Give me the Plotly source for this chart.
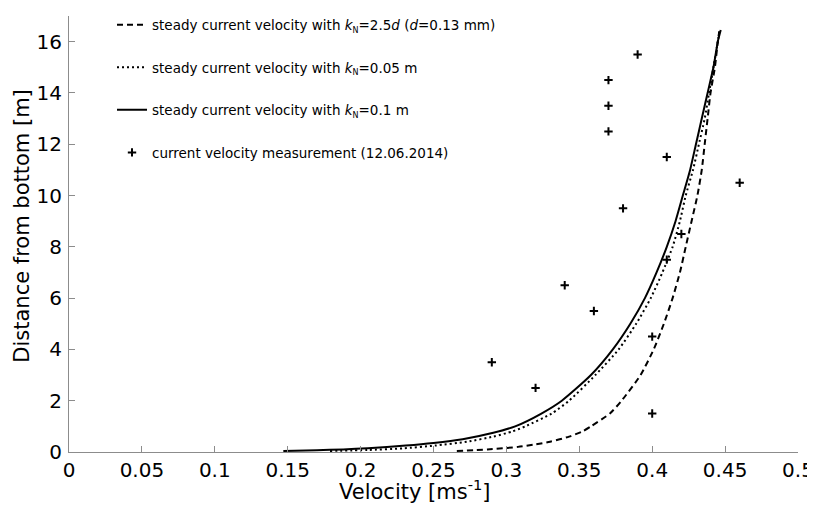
import plotly.graph_objects as go

# Measurements (velocity m/s, height m)
meas_v = [0.40, 0.32, 0.29, 0.40, 0.36, 0.34, 0.41, 0.42, 0.38, 0.46, 0.41, 0.37, 0.37, 0.37, 0.39]
meas_z = [1.5, 2.5, 3.5, 4.5, 5.5, 6.5, 7.5, 8.5, 9.5, 10.5, 11.5, 12.5, 13.5, 14.5, 15.5]

# Steady current profiles (height m, velocity m/s)
dash_z = [0.04, 0.1, 0.2, 0.3, 0.4, 0.6, 0.8, 1.0, 1.5, 2.0, 3.0, 4.0, 5.0, 6.0, 7.0, 8.0, 9.0, 10.0, 11.0, 12.0, 13.0, 14.0, 15.0, 16.0, 16.4]
dash_v = [0.266, 0.287, 0.308, 0.320, 0.330, 0.343, 0.352, 0.358, 0.371, 0.379, 0.392, 0.401, 0.408, 0.414, 0.419, 0.423, 0.427, 0.431, 0.434, 0.436, 0.438, 0.440, 0.443, 0.445, 0.446]

dot_z = [0.04, 0.08, 0.14, 0.25, 0.4, 0.6, 0.8, 1.0, 1.5, 2.0, 3.0, 4.0, 5.0, 6.0, 7.0, 8.0, 9.0, 10.0, 11.0, 12.0, 13.0, 14.0, 15.0, 16.0, 16.4]
dot_v = [0.179, 0.205, 0.229, 0.251, 0.273, 0.291, 0.304, 0.313, 0.331, 0.343, 0.361, 0.377, 0.389, 0.399, 0.407, 0.414, 0.419, 0.423, 0.428, 0.432, 0.436, 0.439, 0.442, 0.445, 0.446]

solid_z = [0.04, 0.07, 0.1, 0.15, 0.25, 0.35, 0.5, 0.75, 1.0, 1.5, 2.0, 3.0, 4.0, 5.0, 6.0, 7.0, 8.0, 9.0, 10.0, 11.0, 12.0, 13.0, 14.0, 15.0, 16.0, 16.45]
solid_v = [0.147, 0.170, 0.188, 0.205, 0.231, 0.250, 0.270, 0.291, 0.306, 0.324, 0.338, 0.358, 0.373, 0.385, 0.395, 0.403, 0.410, 0.416, 0.421, 0.426, 0.430, 0.434, 0.438, 0.442, 0.445, 0.447]

x_ticks = [0, 0.05, 0.1, 0.15, 0.2, 0.25, 0.3, 0.35, 0.4, 0.45, 0.5]
x_tick_text = ["0", "0.05", "0.1", "0.15", "0.2", "0.25", "0.3", "0.35", "0.4", "0.45", "0.5"]
y_ticks = [0, 2, 4, 6, 8, 10, 12, 14, 16]

kN = "<i>k</i><sub><span style='font-size:8px'>N</span></sub>"
names = [
    "steady current velocity with " + kN + "=2.5<i>d</i> (<i>d</i>=0.13 mm)",
    "steady current velocity with " + kN + "=0.05 m",
    "steady current velocity with " + kN + "=0.1 m",
    "current velocity measurement (12.06.2014)",
]

fig = go.Figure()
fig.add_trace(go.Scatter(x=dash_v, y=dash_z, mode="lines", name=names[0], legendgroup="a",
                         line=dict(color="black", width=2, dash="6px,4px", shape="spline", smoothing=0.6)))
fig.add_trace(go.Scatter(x=dot_v, y=dot_z, mode="lines", name=names[1], legendgroup="b",
                         line=dict(color="black", width=2, dash="2px,3px", shape="spline", smoothing=0.6)))
fig.add_trace(go.Scatter(x=solid_v, y=solid_z, mode="lines", name=names[2], legendgroup="c",
                         line=dict(color="black", width=2, shape="spline", smoothing=0.6)))
fig.add_trace(go.Scatter(x=meas_v, y=meas_z, mode="markers", name=names[3], legendgroup="d",
                         marker=dict(symbol="cross-thin", size=6, line=dict(color="black", width=2), color="black")))

tick_font = dict(family="DejaVu Sans", size=20, color="black")
axis_common = dict(
    showline=True, linecolor="#8c8c8c", linewidth=1,
    ticks="inside", tickcolor="#8c8c8c", ticklen=6, tickwidth=1,
    showgrid=False, zeroline=False, automargin=False,
    tickfont=tick_font, mirror=False,
)

title_font = dict(family="DejaVu Sans", size=21, color="black")

# page body has an 8px margin, so the figure is sized to fit the window
fig.update_layout(
    width=807, height=498,
    margin=dict(l=61, r=17, t=1, b=54),
    paper_bgcolor="white", plot_bgcolor="white",
    showlegend=True,
    legend=dict(x=0.059, y=1.015, xanchor="left", yanchor="top",
                font=dict(family="DejaVu Sans", size=13.5, color="black"),
                tracegroupgap=22, bgcolor="rgba(0,0,0,0)", itemwidth=30),
    xaxis=dict(range=[0, 0.5], tickvals=x_ticks, ticktext=x_tick_text, **axis_common),
    yaxis=dict(range=[0, 17], tickvals=y_ticks, ticklabelstandoff=2, **axis_common),
    annotations=[
        dict(text="Velocity [ms<sup>-1</sup>]", xref="paper", yref="paper", x=0.475, y=0,
             xanchor="center", yanchor="middle", yshift=-38, showarrow=False, font=title_font),
        dict(text="Distance from bottom [m]", xref="paper", yref="paper", x=0, y=0.519,
             xanchor="center", yanchor="middle", xshift=-47, textangle=-90, showarrow=False, font=title_font),
    ],
)

fig.write_html("out.html")
